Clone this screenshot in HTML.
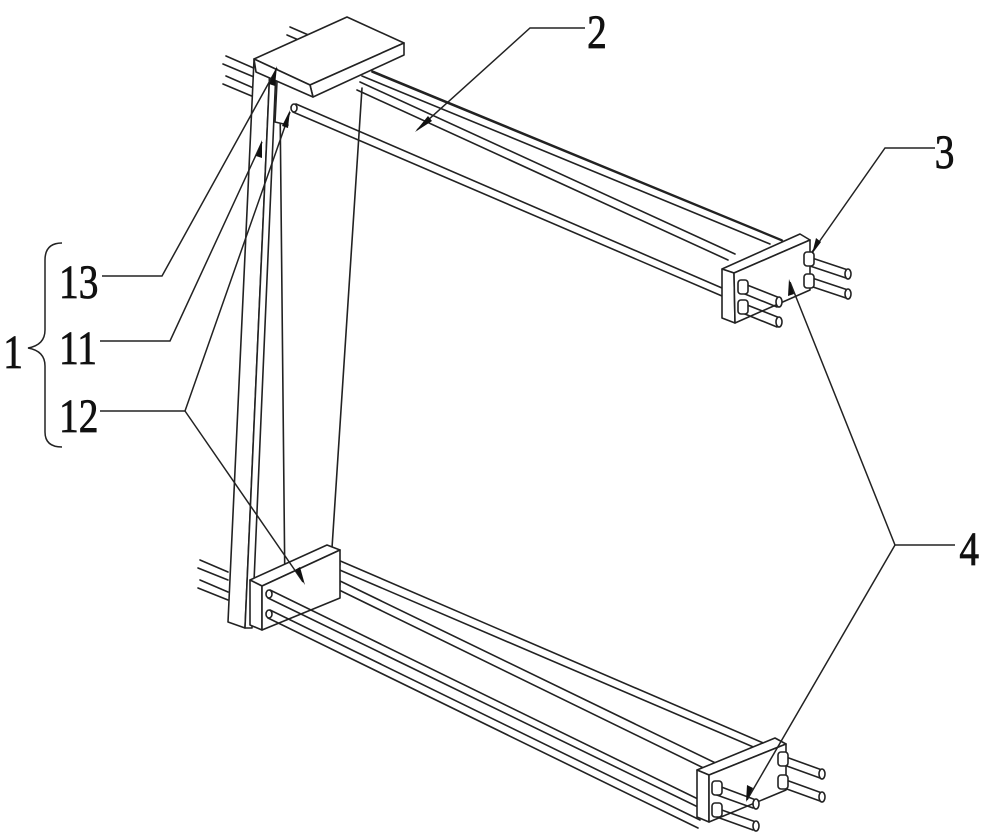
<!DOCTYPE html>
<html><head><meta charset="utf-8"><style>
html,body{margin:0;padding:0;background:#fff;}
svg{display:block}
text{font-family:"Liberation Serif",serif;font-size:48px;fill:#111;stroke:#111;stroke-width:0.8px;}
</style></head><body>
<svg width="1000" height="835" viewBox="0 0 1000 835" xmlns="http://www.w3.org/2000/svg">
<g fill="#fff" stroke="#222" stroke-width="1.6" stroke-linejoin="round" stroke-linecap="round">
<path d="M226,56 L256,69 M223,64 L254,77"/>
<path d="M226,76 L256,89 M223,84 L254,97"/>
<path d="M290,27 L320,40 M287,35 L315,47"/>
<path d="M200,560 L228,572 M198,568 L228,580"/>
<path d="M200,580 L228,592 M198,588 L228,600"/>
<path d="M365,68 L782,240 M362,76 L770,244"/>
<path d="M360,82 L735,254 M357,90 L728,260"/>
<path d="M362,88 L332,548"/>
<path d="M280,100 L285,595"/>
<polygon points="254,60 270,66 245,628 228,622"/>
<polygon points="270,66 276,70 252,628 245,628"/>
<polygon points="254,59 347,17 404,43 310,85"/>
<polygon points="310,85 404,43 404,55 313,97"/>
<polygon points="254,59 310,85 313,97 256,72"/>
<path d="M277,82 L275,122 L288,125"/>
<path d="M296,104 L722,288 M293,112 L722,296"/>
<ellipse cx="294" cy="108" rx="3" ry="4"/>
<path d="M372,72 L785,242"/>
<polygon points="722,269 800,234 810,240 734,273"/>
<polygon points="722,269 734,273 735,323 722,318"/>
<polygon points="734,273 810,240 810,290 735,323"/>
<g>
<path d="M742,283 L780,298 M740,292 L777,307"/><ellipse cx="779" cy="302" rx="3" ry="5"/>
<rect x="738" y="280" width="10" height="14" rx="3"/>
<path d="M742,303 L780,318 M740,312 L777,327"/><ellipse cx="779" cy="322" rx="3" ry="5"/>
<rect x="738" y="300" width="10" height="14" rx="3"/>
<path d="M812,258 L848,270 M810,266 L846,278"/><ellipse cx="848" cy="274" rx="3" ry="5"/>
<rect x="804" y="252" width="10" height="14" rx="3"/>
<path d="M812,278 L848,290 M810,286 L846,298"/><ellipse cx="848" cy="294" rx="3" ry="5"/>
<rect x="804" y="274" width="10" height="14" rx="3"/>
</g>
<path d="M338,560 L775,748 M335,568 L765,752"/>
<path d="M338,580 L730,770 M335,588 L720,776"/>
<ellipse cx="337" cy="564" rx="3" ry="4"/><ellipse cx="337" cy="584" rx="3" ry="4"/>
<polygon points="250,580 327,545 340,550 262,586"/>
<polygon points="250,580 262,586 262,630 250,625"/>
<polygon points="262,586 340,550 340,598 262,630"/>
<path d="M270,590 L700,800 M268,598 L700,808"/>
<path d="M270,610 L700,820 M268,618 L698,828"/>
<ellipse cx="269" cy="594" rx="3" ry="4"/><ellipse cx="269" cy="614" rx="3" ry="4"/>
<polygon points="697,770 775,738 786,744 709,775"/>
<polygon points="697,770 709,775 709,822 697,817"/>
<polygon points="709,775 786,744 786,790 709,822"/>
<g>
<path d="M716,785 L756,800 M714,794 L753,808"/><ellipse cx="756" cy="804" rx="3" ry="5"/>
<rect x="712" y="781" width="10" height="14" rx="3"/>
<path d="M716,808 L756,822 M714,816 L753,830"/><ellipse cx="756" cy="826" rx="3" ry="5"/>
<rect x="712" y="803" width="10" height="14" rx="3"/>
<path d="M786,757 L822,770 M784,765 L820,778"/><ellipse cx="822" cy="774" rx="3" ry="5"/>
<rect x="778" y="752" width="10" height="14" rx="3"/>
<path d="M786,780 L822,793 M784,788 L820,801"/><ellipse cx="822" cy="797" rx="3" ry="5"/>
<rect x="778" y="775" width="10" height="14" rx="3"/>
</g>
</g>
<g fill="none" stroke="#222" stroke-width="1.5">
<path d="M102,276 L162,276 L277,68"/>
<path d="M100,341 L170,341 L262,142"/>
<path d="M100,411 L185,411 L290,112"/>
<path d="M185,411 L303,582"/>
<path d="M585,28 L530,28 L417,130"/>
<path d="M935,148 L885,148 L812,252"/>
<path d="M955,545 L895,545 L790,282"/>
<path d="M895,545 L747,800"/>
<path d="M62,243 Q45,243 45,260 L45,330 Q45,345 28,348 Q45,351 45,366 L45,432 Q45,447 62,447"/>
</g>
<g fill="#111">
<polygon points="277,66 269,84 275,86"/>
<polygon points="262,140 256,156 262,158"/>
<polygon points="290,110 282,126 288,128"/>
<polygon points="305,585 295,570 300,567"/>
<polygon points="415,132 428,116 432,121"/>
<polygon points="812,254 816,238 821,242"/>
<polygon points="789,279 788,296 794,294"/>
<polygon points="746,802 747,785 753,788"/>
</g>
<g transform="scale(0.82,1)">
<text x="716" y="48">2</text>
<text x="1140" y="168">3</text>
<text x="1170" y="565">4</text>
<text x="72" y="298">13</text>
<text x="72" y="364">11</text>
<text x="72" y="432">12</text>
<text x="4" y="368">1</text>
</g>
</svg>
</body></html>
